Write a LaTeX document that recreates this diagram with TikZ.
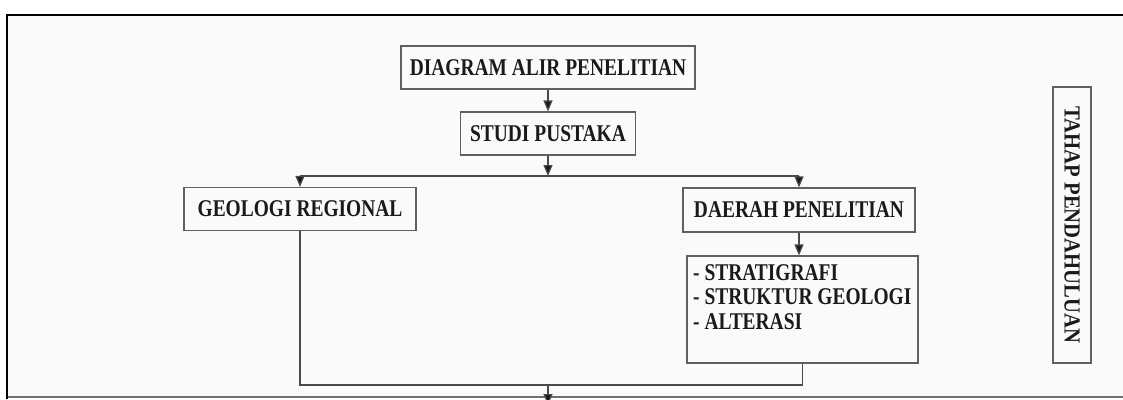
\documentclass[tikz,border=0pt]{standalone}
\usepackage{fontspec}
\setmainfont{Liberation Serif}[FakeStretch=0.81]
\newfontfamily\tahapfont{Liberation Serif}[FakeStretch=0.9]
\usetikzlibrary{arrows.meta}
\definecolor{bg}{HTML}{FAFAFA}
\definecolor{boxgray}{HTML}{606060}
\definecolor{linegray}{HTML}{4A4A4A}
\definecolor{txt}{HTML}{1A1A1A}
\definecolor{framegray}{HTML}{707070}
\begin{document}
\begin{tikzpicture}[x=1pt,y=-1pt,
  box/.style={draw=boxgray, line width=1.2pt, inner sep=0pt, text=txt,
    font=\fontsize{24}{24.5}\selectfont\bfseries},
  conn/.style={draw=linegray, line width=1.2pt},
  arr/.style={conn, -{Triangle[width=9pt,length=11pt,fill=txt]}},
  listtxt/.style={inner sep=0pt, text=txt, align=left,
    font=\fontsize{24}{24.5}\selectfont\bfseries}]
\useasboundingbox (0,0) rectangle (1123,399);
\fill[white] (0,0) rectangle (1123,399);
\fill[bg] (7,15) rectangle (1123,397);

\node[box, minimum width=294, minimum height=43] (diagram) at (548,67.5) {DIAGRAM ALIR PENELITIAN};
\node[box, minimum width=175, minimum height=43] (studi) at (548,133.5) {STUDI PUSTAKA};
\node[box, minimum width=232, minimum height=43] (geologi) at (300,209) {GEOLOGI REGIONAL};
\node[box, minimum width=232, minimum height=44] (daerah) at (799,210) {DAERAH PENELITIAN};
\node[box, minimum width=231, minimum height=107] (list) at (802.5,309.5) {};
\node[listtxt, anchor=north west] (listtext) at (693,264) {- STRATIGRAFI\\- STRUKTUR GEOLOGI\\- ALTERASI};
\node[box, font=\fontsize{23}{24.5}\selectfont\tahapfont\bfseries, minimum width=276, minimum height=38, rotate=-90] (tahap) at (1072,225) {TAHAP PENDAHULUAN};

\coordinate (j) at (548,176);
\coordinate (m) at (548,385);
\coordinate (out) at (548,405);

\draw[arr] (diagram.south) -- (studi.north);
\draw[arr] (studi.south) -- (j);
\draw[conn] (geologi.north |- j) -- (daerah.north |- j);
\draw[arr] (geologi.north |- j) -- (geologi.north);
\draw[arr] (daerah.north |- j) -- (daerah.north);
\draw[arr] (daerah.south) -- (daerah.south |- list.north);
\draw[conn] (geologi.south) |- (m) -| (list.south);

\draw[framegray, line width=1.5pt] (7,397) -- (1123,397);
\draw[arr] (m) -- (out);
\draw[black, line width=2.5pt] (7,399) -- (7,15) -- (1123,15);
\end{tikzpicture}
\end{document}
